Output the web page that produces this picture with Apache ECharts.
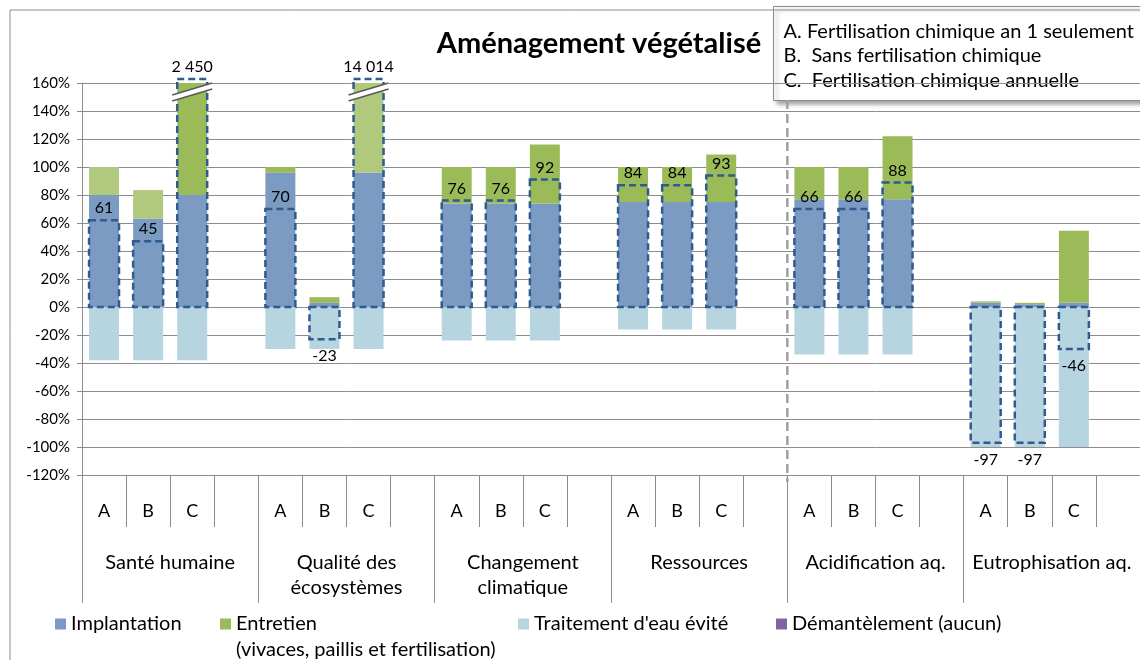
<!DOCTYPE html>
<html>
<head>
<meta charset="utf-8">
<script src="https://cdn.jsdelivr.net/npm/echarts@6/dist/echarts.min.js"></script>
<style>
  html, body { margin: 0; padding: 0; background: #fff; }
  #chart { width: 1140px; height: 660px; }
</style>
</head>
<body>
<div id="chart"></div>
<script>
// slots: 6 impact groups x (A, B, C, empty)
const slotLabels = [
  'A', 'B', 'C', '', 'A', 'B', 'C', '', 'A', 'B', 'C', '',
  'A', 'B', 'C', '', 'A', 'B', 'C', '', 'A', 'B', 'C', ''
]
const groupNames = [
  'Santé humaine', 'Qualité des\nécosystèmes', 'Changement\nclimatique',
  'Ressources', 'Acidification aq.', 'Eutrophisation aq.'
]
const seriesNames = ['Implantation', 'Entretien', "Traitement d'eau évité", 'Démantèlement (aucun)']
const scenarios = [
  'A. Fertilisation chimique an 1 seulement',
  'B.  Sans fertilisation chimique',
  'C.  Fertilisation chimique annuelle'
]

// values in %
const implantation = [80, 63, 80, null, 96, 3, 96, null, 74, 74, 74, null, 75, 75, 75, null, 77, 77, 77, null, 3, 2, 3, null]
const entretien = [20, 20.5, 2408, null, 4, 4, 13948, null, 26, 26, 42, null, 25, 25, 34, null, 23, 23, 45, null, 1, 1, 51.5, null]
const traitement = [-38, -38, -38, null, -30, -30, -30, null, -24, -24, -24, null, -16, -16, -16, null, -34, -34, -34, null, -100, -100, -100, null]
const demantelement = [0, 0, 0, null, 0, 0, 0, null, 0, 0, 0, null, 0, 0, 0, null, 0, 0, 0, null, 0, 0, 0, null]
// dashed "net" boxes and the numbers written next to them
const netBox = [62, 47, 2450, null, 70, -23, 14014, null, 76, 76, 91, null, 87, 87, 94, null, 70, 70, 89, null, -97, -97, -30, null]
const netLabel = [61, 45, 2450, null, 70, -23, 14014, null, 76, 76, 92, null, 84, 84, 93, null, 66, 66, 88, null, -97, -97, -46, null]

const yMin = -120
const yMax = 160
const yStep = 20

const FONT = 'Lato, "Noto Sans", sans-serif'
const GRAY = '#8c8c8c'
const lightGreenSlots = [0, 1, 6]

const chart = echarts.init(document.getElementById('chart'))

function fmt(v) {
  return String(v).replace(/\B(?=(\d{3})+(?!\d))/g, ' ')
}

function renderNet(params, api) {
  const i = api.value(0)
  const v = api.value(1)
  const lab = api.value(2)
  const cs = params.coordSys
  const w = api.size([1, 0])[0] * 0.68
  const p0 = api.coord([i, 0])
  const p1 = api.coord([i, v])
  const over = p1[1] < cs.y
  const yEnd = over ? cs.y - 4 : p1[1]
  const top = Math.min(p0[1], yEnd)
  const h = Math.abs(p0[1] - yEnd)
  const cx = p0[0]
  const children = [{
    type: 'rect',
    shape: { x: cx - w / 2, y: top, width: w, height: h },
    style: { fill: 'none', stroke: '#2f5b8f', lineWidth: 2.5, lineDash: [7, 4] }
  }]
  if (over) {
    const cy = cs.y + 9
    const dx = 20, dy = 6, g = 3
    children.push({
      type: 'polygon',
      shape: { points: [[cx - dx, cy + dy + g], [cx + dx, cy - dy + g], [cx + dx, cy - dy - g], [cx - dx, cy + dy - g]] },
      style: { fill: '#fff', stroke: null }
    })
    children.push({ type: 'line', shape: { x1: cx - dx, y1: cy + dy + g, x2: cx + dx, y2: cy - dy + g }, style: { stroke: '#595959', lineWidth: 1.5 } })
    children.push({ type: 'line', shape: { x1: cx - dx, y1: cy + dy - g, x2: cx + dx, y2: cy - dy - g }, style: { stroke: '#595959', lineWidth: 1.5 } })
  }
  children.push({
    type: 'text',
    style: {
      text: fmt(lab),
      x: cx,
      y: v >= 0 ? top - 4 : top + h + 9,
      align: 'center',
      verticalAlign: v >= 0 ? 'bottom' : 'top',
      fill: '#000',
      font: '16px ' + FONT
    }
  })
  return { type: 'group', children: children }
}

const netData = []
netBox.forEach((v, i) => {
  if (v !== null) netData.push([i, v, netLabel[i]])
})

const legendBase = {
  padding: 0,
  icon: 'rect',
  itemWidth: 11,
  itemHeight: 11,
  top: 614,
  selectedMode: false,
  textStyle: { fontFamily: FONT, fontSize: 20, color: '#000' }
}

chart.setOption({
  animation: false,
  grid: { left: 82, top: 83, width: 1063, height: 392 },
  legend: [
    Object.assign({ left: 55, data: [seriesNames[0]] }, legendBase),
    Object.assign({ left: 220, data: [seriesNames[1]] }, legendBase),
    Object.assign({ left: 518, data: [seriesNames[2]] }, legendBase),
    Object.assign({ left: 776, data: [seriesNames[3]] }, legendBase)
  ],
  xAxis: [{
    type: 'category',
    data: slotLabels,
    axisLine: { onZero: true, lineStyle: { color: GRAY } },
    axisTick: { length: 5, interval: 0, lineStyle: { color: GRAY } },
    axisLabel: { show: false }
  }, {
    type: 'category',
    data: slotLabels,
    position: 'bottom',
    axisLine: { show: true, onZero: false, lineStyle: { color: GRAY } },
    axisTick: { show: true, length: 52, interval: 0, lineStyle: { color: GRAY } },
    axisLabel: { interval: 0, margin: 36, verticalAlign: 'middle', fontFamily: FONT, fontSize: 18, color: '#000' }
  }, {
    type: 'category',
    data: groupNames,
    position: 'bottom',
    axisLine: { show: true, onZero: false, lineStyle: { color: GRAY } },
    axisTick: { show: true, length: 128, interval: 0, lineStyle: { color: GRAY } },
    axisLabel: { interval: 0, margin: 75, verticalAlign: 'top', lineHeight: 25, fontFamily: FONT, fontSize: 20, color: '#000' }
  }],
  yAxis: {
    type: 'value',
    min: yMin,
    max: yMax,
    interval: yStep,
    axisLine: { show: true, lineStyle: { color: GRAY } },
    axisTick: { show: true, length: 5, lineStyle: { color: GRAY } },
    axisLabel: { formatter: '{value}%', margin: 12, fontFamily: FONT, fontSize: 15, color: '#000' },
    splitLine: { lineStyle: { color: GRAY } }
  },
  graphic: [
    {
      id: 'frame', type: 'rect', z: 1, silent: true,
      shape: { x: 10, y: 10, width: 1200, height: 700 },
      style: { fill: 'none', stroke: GRAY, lineWidth: 1 }
    },
    {
      id: 'title', type: 'text', z: 10,
      style: { text: 'Aménagement végétalisé', x: 599, y: 44, align: 'center', verticalAlign: 'middle', font: 'bold 29px ' + FONT, fill: '#000' }
    },
    {
      id: 'entretienNote', type: 'text', z: 10,
      style: { text: '(vivaces, paillis et fertilisation)', x: 236, y: 650, verticalAlign: 'middle', font: '20px ' + FONT, fill: '#000' }
    },
    {
      id: 'scenarioBox', type: 'group', z: 20, left: 773, top: 6,
      children: [{
        type: 'rect',
        shape: { x: 0, y: 0, width: 400, height: 94 },
        style: { fill: '#fff', stroke: GRAY, lineWidth: 1, shadowBlur: 4, shadowOffsetX: 3, shadowOffsetY: 3, shadowColor: 'rgba(0,0,0,0.35)' }
      }].concat(scenarios.map((s, k) => ({
        type: 'text',
        style: { text: s, x: 10, y: 25 + k * 24.5, verticalAlign: 'middle', font: '20px ' + FONT, fill: '#000' }
      })))
    }
  ],
  series: [
    {
      name: seriesNames[0], type: 'bar', stack: 'total', barWidth: '68%',
      itemStyle: { color: '#7b9bc2' },
      data: implantation
    },
    {
      name: seriesNames[1], type: 'bar', stack: 'total', barWidth: '68%',
      itemStyle: { color: '#9bbb59' },
      data: entretien.map((v, i) => lightGreenSlots.includes(i) ? { value: v, itemStyle: { color: '#b0c97d' } } : v)
    },
    {
      name: seriesNames[2], type: 'bar', stack: 'total', barWidth: '68%',
      itemStyle: { color: '#b7d5e1' },
      data: traitement
    },
    {
      name: seriesNames[3], type: 'bar', stack: 'total', barWidth: '68%',
      itemStyle: { color: '#8064a2' },
      data: demantelement
    },
    {
      type: 'custom', z: 5,
      renderItem: renderNet,
      data: netData
    }
  ]
})

// dashed separator between Ressources and Acidification
const xa = chart.convertToPixel({ xAxisIndex: 0 }, 15)
const xb = chart.convertToPixel({ xAxisIndex: 0 }, 16)
const yBottom = chart.convertToPixel({ yAxisIndex: 0 }, yMin)
chart.setOption({
  graphic: [{
    id: 'separator', type: 'line', z: 3, silent: true,
    shape: { x1: (xa + xb) / 2, y1: 100, x2: (xa + xb) / 2, y2: yBottom + 7 },
    style: { stroke: '#a0a0a0', lineWidth: 2.5, lineDash: [9, 5] }
  }]
})
</script>
</body>
</html>
